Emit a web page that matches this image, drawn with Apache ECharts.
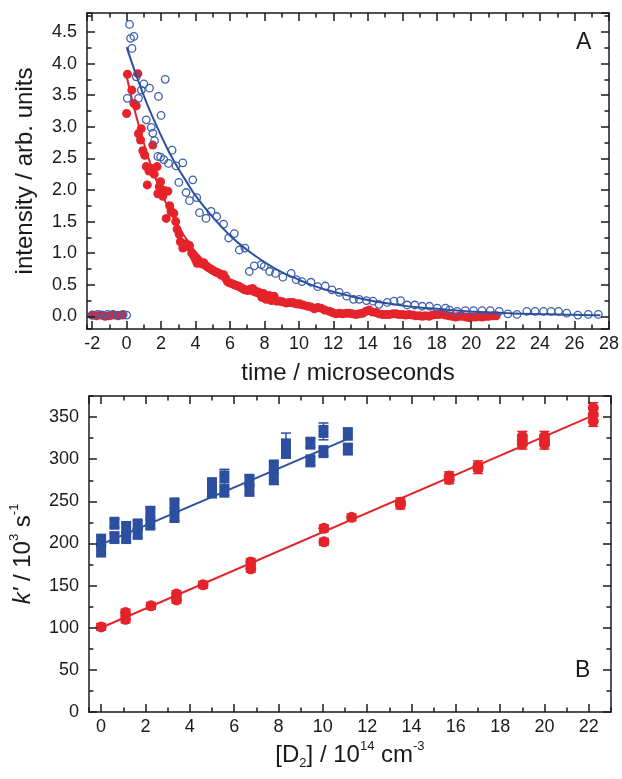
<!DOCTYPE html>
<html><head><meta charset="utf-8">
<script src="https://cdn.jsdelivr.net/npm/echarts@6/dist/echarts.min.js"></script>
<style>html,body{margin:0;padding:0;background:#fff}#c{width:622px;height:779px}</style>
</head><body><div id="c"></div>
<script>
// ---------- Panel A : decay traces (time in microseconds, intensity in arb. units) ----------
const redPoints = [
 [-2.0,0.02],[-1.75,0.01],[-1.5,0.02],[-1.25,0.0],[-1.0,0.01],[-0.75,0.02],[-0.5,0.01],[-0.25,0.02],
 [0.0,3.21],[0.05,3.83],[0.3,3.58],[0.42,3.37],[0.56,3.33],[0.65,3.84],[0.69,2.89],[0.81,2.79],[0.85,2.97],
 [0.94,2.62],[1.05,2.55],[1.14,2.37],[1.2,2.08],[1.3,2.3],[1.43,2.34],[1.52,2.71],[1.6,2.25],[1.77,2.37],
 [1.81,1.94],[1.9,2.05],[1.97,2.13],[2.1,1.9],[2.2,1.99],[2.3,1.55],[2.39,1.98],[2.5,1.75],[2.58,1.66],
 [2.74,1.63],[2.85,1.5],[2.93,1.38],[3.05,1.3],[3.12,1.18],[3.26,1.08],[3.35,1.12],[3.45,1.15],[3.55,1.1],
 [3.65,1.12],[3.78,1.0],[3.9,0.95],[4.0,0.9],[4.09,0.84],[4.2,0.86],[4.35,0.83],[4.48,0.85],[4.6,0.8],
 [4.71,0.78],[4.82,0.76],[4.94,0.74],[5.05,0.72],[5.19,0.7],[5.28,0.69],[5.38,0.68],[5.5,0.65],[5.63,0.66],
 [5.75,0.6],[5.85,0.55],[5.96,0.53],[6.1,0.52],[6.25,0.5],[6.35,0.49],[6.48,0.48],[6.6,0.46],[6.73,0.44],
 [6.85,0.42],[7.02,0.41],[7.15,0.43],[7.31,0.44],[7.45,0.4],[7.6,0.39],[7.75,0.37],[7.85,0.3],[7.95,0.36],
 [8.1,0.27],[8.27,0.33],[8.4,0.25],[8.56,0.32],[8.7,0.24],[8.88,0.24],[9.05,0.23],[9.27,0.21],[9.45,0.22],
 [9.65,0.22],[9.85,0.2],[10.03,0.2],[10.25,0.18],[10.52,0.16],[10.7,0.15],[10.9,0.12],[11.1,0.14],[11.29,0.13],
 [11.5,0.1],[11.77,0.08],[11.95,0.06],[12.15,0.04],[12.35,0.05],[12.54,0.04],[12.75,0.05],[12.92,0.05],
 [13.1,0.04],[13.31,0.03],[13.5,0.04],[13.7,0.05],[13.9,0.08],[14.08,0.1],[14.25,0.07],[14.47,0.06],
 [14.65,0.04],[14.85,0.03],[15.05,0.03],[15.24,0.03],[15.45,0.04],[15.63,0.04],[15.8,0.03],[16.01,0.03],
 [16.2,0.02],[16.4,0.03],[16.6,0.02],[16.78,0.01],[17.0,0.01],[17.17,0.0],[17.35,0.01],[17.56,0.0],
 [17.75,0.02],[17.94,0.03],[18.15,0.03],[18.33,0.04],[18.5,0.02],[18.71,0.01],[18.9,0.0],[19.1,-0.01],
 [19.3,0.0],[19.49,0.0],[19.7,-0.01],[19.87,-0.02],[20.05,-0.01],[20.26,-0.01],[20.45,0.0],[20.64,-0.01],
 [20.85,0.0],[21.03,0.0],[21.25,0.01],[21.45,0.01]
];
const bluePoints = [
 [-2.0,0.02],[-1.7,0.03],[-1.4,0.02],[-1.1,0.03],[-0.8,0.03],[-0.5,0.02],[-0.2,0.03],[0.0,0.02],
 [0.04,3.45],[0.17,4.62],[0.23,4.40],[0.31,4.24],[0.42,4.43],[0.56,3.79],[0.69,3.45],[0.85,3.58],[1.0,3.68],
 [1.14,3.11],[1.33,3.61],[1.43,2.99],[1.52,2.9],[1.62,2.78],[1.81,2.53],[1.85,3.48],[1.97,2.52],[2.0,3.18],
 [2.16,2.48],[2.24,3.75],[2.43,2.42],[2.64,2.63],[2.87,2.38],[3.03,2.12],[3.26,2.43],[3.45,1.96],[3.65,1.83],
 [3.84,2.16],[4.07,1.88],[4.23,1.64],[4.61,1.55],[4.9,1.66],[5.23,1.58],[5.63,1.46],[5.92,1.24],[6.25,1.31],
 [6.54,1.05],[6.87,1.08],[7.12,0.71],[7.41,0.8],[7.82,0.82],[7.99,0.79],[8.3,0.71],[8.64,0.68],[9.07,0.62],
 [9.55,0.68],[9.84,0.58],[10.18,0.55],[10.7,0.54],[11.09,0.47],[11.53,0.48],[11.92,0.42],[12.34,0.38],
 [12.77,0.32],[13.17,0.27],[13.5,0.27],[13.92,0.25],[14.3,0.24],[14.65,0.19],[15.13,0.22],[15.52,0.24],
 [15.9,0.25],[16.29,0.18],[16.73,0.18],[17.16,0.16],[17.58,0.16],[18.03,0.13],[18.51,0.13],[18.74,0.1],
 [19.18,0.08],[19.66,0.09],[20.14,0.09],[20.63,0.09],[21.11,0.09],[21.63,0.08],[22.13,0.04],[22.66,0.03],
 [23.23,0.08],[23.71,0.08],[24.2,0.08],[24.64,0.08],[25.07,0.08],[25.55,0.05],[26.19,0.02],[26.8,0.03],[27.38,0.03]
];
// fitted curves
const redFitT  = [0,0.5,1,1.5,2,2.5,3,3.5,4,5,6,7,8,9,10,11,12,13,14,15,16,17,18,19,20,21];
const redFitV  = [3.80,3.23,2.74,2.32,1.97,1.67,1.42,1.21,1.02,0.74,0.53,0.38,0.28,0.20,0.14,0.10,0.074,0.054,0.039,0.028,0.020,0.014,0.010,0.007,0.005,0.004];
const blueFitT = [0,0.5,1,1.5,2,2.5,3,3.5,4,5,6,7,8,9,10,11,12,13,14,15,16,17,18,19,20,21,22,23,24,25,26,27,27.5];
const blueFitV = [4.26,3.86,3.49,3.16,2.86,2.58,2.34,2.12,1.91,1.57,1.28,1.05,0.86,0.70,0.58,0.47,0.39,0.32,0.26,0.21,0.17,0.14,0.12,0.095,0.078,0.064,0.052,0.043,0.035,0.029,0.024,0.019,0.017];

// ---------- Panel B : k' vs [D2] ----------
const blueD2  = [0,0,0.6,0.6,1.13,1.13,1.65,1.65,2.22,2.22,3.31,3.31,5.0,5.0,5.56,5.56,6.69,6.69,7.79,7.79,8.34,8.34,9.44,9.44,10.03,10.03,11.13,11.13];
const blueK   = [191,204,207,224,207,219,212,222,223,237,232,247,261,271,262,279,263,275,277,292,308,317,298,319,309,333,312,330];
const blueErr = [5,5,5,5,5,5,5,5,5,5,5,5,5,5,5,9,5,5,7,5,5,14,5,5,5,10,5,7];
const redD2   = [0,1.1,1.1,2.25,3.4,3.4,4.6,6.75,6.75,10.05,10.05,11.3,13.5,13.5,15.7,15.7,17.0,17.0,19.0,19.0,19.0,20.0,20.0,20.0,22.2,22.2,22.2];
const redK    = [101,110,118,126,133,140,151,170,178,202,218,231,246,249,276,280,289,292,318,322,327,318,322,327,345,353,361];
const redErr  = [4,4,4,4,4,4,4,4,4,4,4,4,5,5,5,5,6,6,6,6,6,6,6,6,6,6,6];
const blueLineD2 = [0, 11.2];
const blueLineK  = [199, 325];
const redLineD2  = [0, 22.2];
const redLineK   = [100, 352];

// ---------- styling ----------
const FONT = "'Liberation Sans', Arial, Helvetica, sans-serif";
const INK = '#1a1a1a';
const RED = '#e4232a';
const BLUE = '#2c4f9f';
const BLUE_O = '#3e60ae';

function axisQuad(dim, grid, min, max, major, minor, label) {
  const sides = dim === 'x' ? ['bottom','top'] : ['left','right'];
  const out = [];
  sides.forEach((pos, si) => {
    [major, minor].forEach((step, mi) => {
      const isMain = si === 0 && mi === 0;
      out.push({
        type: 'value', gridIndex: grid, position: pos, min: min, max: max,
        minInterval: step, maxInterval: step, splitNumber: Math.round((max-min)/step),
        axisLine: { show: mi === 0, onZero: false, lineStyle: { color: INK, width: 1.5 } },
        axisTick: { show: true, inside: true, length: mi === 0 ? 8 : 4.5, lineStyle: { color: INK, width: 1.5 } },
        splitLine: { show: false },
        axisLabel: isMain ? Object.assign({ show: true, color: INK, fontSize: 18, fontFamily: FONT,
            showMinLabel: false, showMaxLabel: false, hideOverlap: false }, label || {}) : { show: false },
        axisPointer: { show: false },
        z: 5
      });
    });
  });
  return out;
}

const xA = axisQuad('x', 0, -2.3, 28, 2, 1, { margin: 6, showMaxLabel: true });
const yA = axisQuad('y', 0, -0.2, 4.8, 0.5, 0.25, { margin: 10, formatter: v => v.toFixed(1) });
const xB = axisQuad('x', 1, -0.55, 23, 2, 1, { margin: 6 });
const yB = axisQuad('y', 1, 0, 375, 50, 25, { margin: 10, showMinLabel: true });

const TITLE = 24;
xA[0].name = 'time / microseconds';
xA[0].nameLocation = 'middle'; xA[0].nameGap = 32;
xA[0].nameTextStyle = { color: INK, fontSize: TITLE, fontFamily: FONT };
yA[0].name = 'intensity / arb. units';
yA[0].nameLocation = 'middle'; yA[0].nameGap = 50; yA[0].nameRotate = 90;
yA[0].nameTextStyle = { color: INK, fontSize: TITLE, fontFamily: FONT };

xB[0].name = '[D{sub|2}] / 10{sup|14} cm{sup|-3}';
xB[0].nameLocation = 'middle'; xB[0].nameGap = 28;
xB[0].nameTextStyle = { color: INK, fontSize: TITLE, fontFamily: FONT, lineHeight: 30,
  rich: { sup: { fontSize: 13, lineHeight: 13, verticalAlign: 'top', fontFamily: FONT, color: INK },
          sub: { fontSize: 13, lineHeight: 13, verticalAlign: 'bottom', fontFamily: FONT, color: INK } } };
yB[0].name = "{it|k'} / 10{sup|3} s{sup|-1}";
yB[0].nameLocation = 'middle'; yB[0].nameGap = 46; yB[0].nameRotate = 90;
yB[0].nameTextStyle = { color: INK, fontSize: TITLE, fontFamily: FONT, lineHeight: 30,
  rich: { it: { fontSize: TITLE, fontStyle: 'italic', fontFamily: FONT, color: INK },
          sup: { fontSize: 13, lineHeight: 13, verticalAlign: 'top', fontFamily: FONT, color: INK } } };

function errRender(color) {
  return function (params, api) {
    const x = api.value(0), y = api.value(1), e = api.value(2);
    const lo = api.coord([x, y - e]), hi = api.coord([x, y + e]);
    const w = 5;
    const st = { stroke: color, lineWidth: 1.5 };
    return { type: 'group', children: [
      { type: 'line', shape: { x1: lo[0], y1: lo[1], x2: hi[0], y2: hi[1] }, style: st },
      { type: 'line', shape: { x1: lo[0]-w, y1: lo[1], x2: lo[0]+w, y2: lo[1] }, style: st },
      { type: 'line', shape: { x1: hi[0]-w, y1: hi[1], x2: hi[0]+w, y2: hi[1] }, style: st }
    ]};
  };
}

const zip2 = (a, b) => a.map((v, i) => [v, b[i]]);
const zip3 = (a, b, c) => a.map((v, i) => [v, b[i], c[i]]);

const option = {
  animation: false,
  backgroundColor: '#fff',
  grid: [
    { left: 87, right: 12, top: 13, height: 316 },
    { left: 87, right: 11, top: 396, height: 316 }
  ],
  xAxis: xA.concat(xB),
  yAxis: yA.concat(yB),
  series: [
    { type: 'scatter', xAxisIndex: 0, yAxisIndex: 0, data: redPoints, symbol: 'circle', symbolSize: 9,
      itemStyle: { color: RED, opacity: 1 }, z: 2 },
    { type: 'line', xAxisIndex: 0, yAxisIndex: 0, data: zip2(redFitT, redFitV), smooth: true, showSymbol: false,
      lineStyle: { color: RED, width: 2 }, z: 3 },
    { type: 'scatter', xAxisIndex: 0, yAxisIndex: 0, data: bluePoints, symbol: 'circle', symbolSize: 7.5,
      itemStyle: { color: 'rgba(255,255,255,0)', borderColor: BLUE_O, borderWidth: 1.3, opacity: 1 }, z: 4 },
    { type: 'line', xAxisIndex: 0, yAxisIndex: 0, data: zip2(blueFitT, blueFitV), smooth: true, showSymbol: false,
      lineStyle: { color: BLUE, width: 2 }, z: 5 },

    { type: 'custom', xAxisIndex: 4, yAxisIndex: 4, data: zip3(blueD2, blueK, blueErr), renderItem: errRender(BLUE), z: 2 },
    { type: 'scatter', xAxisIndex: 4, yAxisIndex: 4, data: zip2(blueD2, blueK), symbol: 'rect', symbolSize: [10, 13],
      itemStyle: { color: BLUE, opacity: 1 }, z: 3 },
    { type: 'line', xAxisIndex: 4, yAxisIndex: 4, data: zip2(blueLineD2, blueLineK), showSymbol: false,
      lineStyle: { color: BLUE, width: 2 }, z: 4 },
    { type: 'custom', xAxisIndex: 4, yAxisIndex: 4, data: zip3(redD2, redK, redErr), renderItem: errRender(RED), z: 2 },
    { type: 'scatter', xAxisIndex: 4, yAxisIndex: 4, data: zip2(redD2, redK), symbol: 'circle', symbolSize: 11,
      itemStyle: { color: RED, opacity: 1 }, z: 3 },
    { type: 'line', xAxisIndex: 4, yAxisIndex: 4, data: zip2(redLineD2, redLineK), showSymbol: false,
      lineStyle: { color: RED, width: 2 }, z: 4 }
  ],
  graphic: [
    { type: 'text', left: 576, top: 31, style: { text: 'A', fontSize: 23, fontFamily: FONT, fill: INK } },
    { type: 'text', left: 575, top: 659, style: { text: 'B', fontSize: 23, fontFamily: FONT, fill: INK } }
  ]
};

const chart = echarts.init(document.getElementById('c'), null, { renderer: 'canvas' });
chart.setOption(option);
</script></body></html>
